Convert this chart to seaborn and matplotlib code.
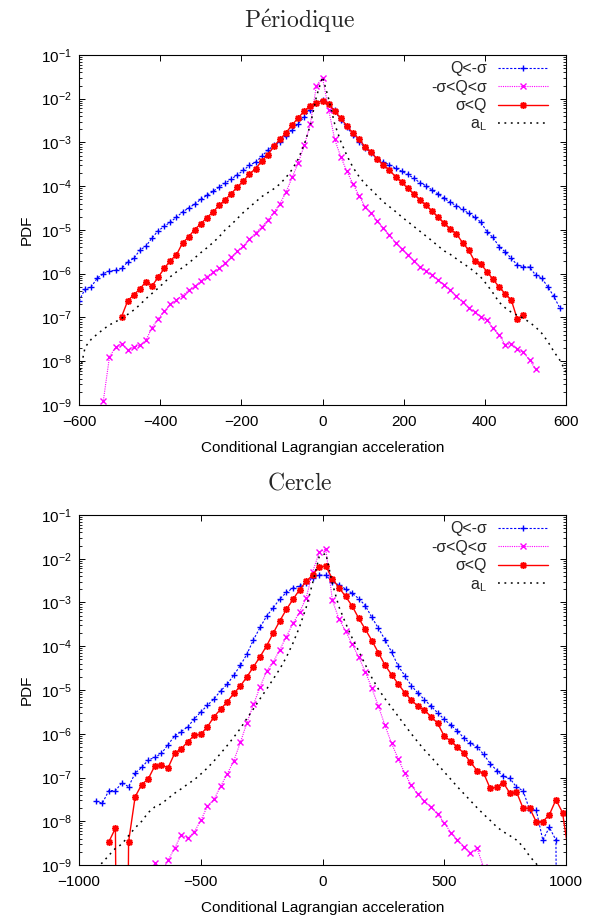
import matplotlib
matplotlib.use("Agg")
import matplotlib.pyplot as plt
import numpy as np
import seaborn as sns

# ---- data (log10 of the PDF) ------------------------------------------------
LABELS = ["Q<-σ", "-σ<Q<σ", "σ<Q", r"a$_\mathregular{L}$"]
NAN = np.nan

# "Périodique": bins every 15 units
per_x = np.arange(-600, 601, 15)
per_blue = [-6.62, -6.35, -6.30, -6.10, -6.00, -5.94, -5.92, -5.88, -5.73, -5.65,
            -5.46, -5.37, -5.18, -5.02, -4.92, -4.82, -4.71, -4.59, -4.50, -4.41,
            -4.30, -4.21, -4.12, -4.02, -3.93, -3.84, -3.74, -3.64, -3.52, -3.45,
            -3.32, -3.18, -3.07, -3.00, -2.86, -2.72, -2.57, -2.42, -2.25, -2.10,
            -2.03,
            -2.12, -2.27, -2.49, -2.65, -2.83, -2.98, -3.12, -3.25, -3.37, -3.45,
            -3.51, -3.59, -3.66, -3.73, -3.82, -3.92, -3.99, -4.09, -4.18, -4.28,
            -4.37, -4.45, -4.53, -4.62, -4.71, -4.82, -5.04, -5.17, -5.38, -5.50,
            -5.65, -5.80, -5.84, -5.85, -6.03, -6.10, -6.30, -6.52, -6.79, NAN]
per_magenta = [NAN, NAN, NAN, NAN,
               -8.90, -7.90, -7.68, -7.60, -7.74, -7.68, -7.64, -7.52, -7.23, -7.03,
               -6.86, -6.70, -6.59, -6.50, -6.38, -6.29, -6.17, -6.07, -5.97, -5.88,
               -5.76, -5.62, -5.49, -5.37, -5.21, -5.07, -4.93, -4.78, -4.60, -4.40,
               -4.14, -3.80, -3.47, -3.07, -2.58, -1.70, -1.52,
               -2.25, -2.93, -3.33, -3.66, -3.95, -4.22, -4.47, -4.62, -4.80, -4.96,
               -5.12, -5.29, -5.43, -5.57, -5.71, -5.84, -5.94, -6.03, -6.15, -6.25,
               -6.37, -6.52, -6.65, -6.78, -6.88, -6.98, -7.06, -7.25, -7.40, -7.62,
               -7.60, -7.71, -7.80, -7.97, -8.18,
               NAN, NAN, NAN, NAN, NAN]
per_red = [NAN, NAN, NAN, NAN, NAN, NAN, NAN,
           -6.98, -6.62, -6.48, -6.35, -6.18, -6.28, -6.08, -5.88, -5.70, -5.57,
           -5.30, -5.16, -4.99, -4.86, -4.72, -4.59, -4.44, -4.31, -4.17, -4.02,
           -3.88, -3.72, -3.60, -3.43, -3.28, -3.09, -2.93, -2.78, -2.60, -2.44,
           -2.28, -2.16, -2.09, -2.05,
           -2.13, -2.28, -2.45, -2.62, -2.79, -2.93, -3.10, -3.23, -3.38, -3.51,
           -3.64, -3.78, -3.91, -4.05, -4.18, -4.31, -4.44, -4.57, -4.71, -4.85,
           -4.98, -5.09, -5.29, -5.46, -5.72, -5.78, -5.95, -6.13, -6.30, -6.46,
           -6.60, -7.04, -6.95,
           NAN, NAN, NAN, NAN, NAN, NAN, NAN]
per_black = [-8.35, -7.68, -7.50, -7.38, -7.27, -7.17, -7.10, -7.02, -6.93, -6.83,
             -6.71, -6.57, -6.45, -6.33, -6.20, -6.07, -5.96, -5.86, -5.76, -5.64,
             -5.52, -5.41, -5.29, -5.16, -5.00, -4.88, -4.74, -4.60, -4.48, -4.36,
             -4.24, -4.15, -4.06, -3.95, -3.80, -3.62, -3.38, -3.05, -2.60, -1.95,
             -1.50,
             -2.00, -2.58, -2.98, -3.30, -3.57, -3.78, -3.95, -4.08, -4.22, -4.36,
             -4.47, -4.58, -4.70, -4.81, -4.92, -5.03, -5.14, -5.25, -5.37, -5.48,
             -5.56, -5.66, -5.76, -5.85, -5.96, -6.08, -6.25, -6.44, -6.65, -6.78,
             -6.88, -6.95, -7.02, -7.11, -7.22, -7.36, -7.55, -7.78, -7.98, -8.25]

# "Cercle": bins 27 wide, centred on +-13.5, +-40.5, ...  (-30 = empty bin)
cer_x = np.arange(-37, 38) * 27 + 13.5
cer_blue = [NAN, NAN,
            -7.54, -7.59, -7.30, -7.30, -7.12, -7.21, -6.90, -6.77, -6.60, -6.54,
            -6.45, -6.25, -6.05, -5.95, -5.84, -5.66, -5.50, -5.35, -5.20, -5.02,
            -4.87, -4.66, -4.44, -4.18, -3.85, -3.57, -3.31, -3.12, -2.92, -2.77,
            -2.67, -2.62, -2.55, -2.43, -2.37,
            -2.38, -2.53, -2.60, -2.69, -2.79, -2.91, -3.07, -3.34, -3.59, -3.85,
            -4.13, -4.45, -4.67, -4.90, -5.07, -5.22, -5.37, -5.52, -5.67, -5.80,
            -5.93, -6.10, -6.22, -6.30, -6.47, -6.68, -6.84, -6.97, -7.02, -7.22,
            -7.30, -7.74, -7.74, -8.43, -8.14, -8.43, -30,
            NAN]
cer_magenta = [NAN] * 11 + [
               -8.95, -9.20, -8.89, -8.62, -8.31, -8.39, -8.24, -7.98, -7.65, -7.50,
               -7.20, -6.92, -6.62, -6.20, -5.75, -5.33, -4.93, -4.57, -4.36, -4.08,
               -3.78, -3.48, -3.22, -2.90, -2.30, -1.85,
               -1.78, -2.95, -3.38, -3.65, -3.95, -4.25, -4.58, -4.96, -5.37, -5.81,
               -6.22, -6.57, -6.90, -7.18, -7.38, -7.54, -7.68, -7.84, -8.03, -8.26,
               -8.42, -8.58, -8.72, -8.62, -9.05] + [NAN] * 13
cer_red = [NAN, NAN, NAN, NAN,
           -8.47, -8.16, -30, -8.47, -7.44, -7.16, -7.03, -6.73, -6.71, -6.78,
           -6.45, -6.35, -6.18, -6.04, -6.01, -5.84, -5.61, -5.44, -5.27, -5.08,
           -4.91, -4.70, -4.47, -4.24, -3.99, -3.70, -3.42, -3.16, -2.93, -2.71,
           -2.52, -2.37, -2.18,
           -2.17, -2.46, -2.66, -2.86, -3.08, -3.36, -3.61, -3.87, -4.15, -4.43,
           -4.65, -4.86, -5.06, -5.23, -5.37, -5.46, -5.61, -5.76, -6.05, -6.17,
           -6.30, -6.45, -6.65, -6.84, -6.90, -7.25, -7.22, -7.12, -7.36, -7.33,
           -7.70, -7.70, -8.01, -8.01, -7.85, -7.51, -7.80, -8.80]
cer_black = [NAN, NAN,
             -9.05, -8.95, -8.78, -8.62, -8.52, -8.33, -8.15, -8.00, -7.80, -7.67,
             -7.60, -7.48, -7.36, -7.26, -7.15, -7.05, -6.92, -6.78, -6.62, -6.45,
             -6.27, -6.08, -5.88, -5.65, -5.43, -5.20, -4.98, -4.75, -4.52, -4.25,
             -3.93, -3.56, -3.12, -2.55, -1.95,
             -1.88, -2.57, -3.10, -3.47, -3.81, -4.11, -4.42, -4.72, -4.98, -5.20,
             -5.40, -5.60, -5.80, -6.00, -6.19, -6.37, -6.53, -6.70, -6.87, -7.04,
             -7.21, -7.37, -7.53, -7.69, -7.84, -7.98, -8.13, -8.24, -8.33, -8.43,
             -8.58, -8.80, -8.97, -9.15,
             NAN, NAN, NAN, NAN]

# ---- style -------------------------------------------------------------------
sns.set_theme(style="ticks")
plt.rcParams.update({
    "font.family": ["Liberation Sans", "DejaVu Sans"],
    "font.size": 11,
    "axes.linewidth": 0.8,
    "axes.edgecolor": "black",
    "axes.labelsize": 11,
    "axes.labelcolor": "black",
    "xtick.labelsize": 11, "ytick.labelsize": 11,
    "xtick.color": "black", "ytick.color": "black",
    "xtick.direction": "in", "ytick.direction": "in",
    "xtick.top": True, "ytick.right": True,
    "xtick.major.size": 4, "ytick.major.size": 4,
    "ytick.minor.size": 2,
    "xtick.major.width": 0.7, "ytick.major.width": 0.7,
    "ytick.minor.width": 0.6,
    "xtick.major.pad": 7, "ytick.major.pad": 5,
})

STYLES = [
    dict(color="#0000ff", marker="+", markersize=5, markeredgewidth=1.0,
         markeredgecolor="#0000ff", linestyle=(0, (2, 1.5)), linewidth=0.8),
    dict(color="#ff00ff", marker="x", markersize=4, markeredgewidth=1.0,
         markeredgecolor="#ff00ff", linestyle=(0, (1, 1)), linewidth=0.8),
    dict(color="#ff0000", marker=(8, 2, 0), markersize=5, markeredgewidth=1.1,
         markeredgecolor="#ff0000", linestyle="-", linewidth=1.0),
    dict(color="black", marker=None, linestyle=(0, (1.2, 3)), linewidth=1.1),
]


def draw_panel(ax, x, series, xlim, xticks):
    ax.set_yscale("log")
    handles = []
    for label, vals, st in zip(LABELS, series, STYLES):
        y = np.power(10.0, np.asarray(vals, dtype=float))
        sns.lineplot(x=x, y=y, ax=ax, label=label, sort=False,
                     estimator=None, **st)
        handles.append(ax.lines[-1])
    ax.set_xlim(*xlim)
    ax.set_ylim(1e-9, 1e-1)
    ax.set_xticks(xticks)
    ax.set_yticks(10.0 ** np.arange(-9, 0))
    ax.yaxis.set_minor_locator(matplotlib.ticker.LogLocator(base=10, subs=np.arange(2, 10), numticks=20))
    ax.set_xlabel("Conditional Lagrangian acceleration")
    ax.set_ylabel("PDF")
    ax.xaxis.set_label_coords(0.5, -0.103)
    ax.yaxis.set_label_coords(-0.092, 0.5)
    leg = ax.legend(handles=handles, labels=LABELS, loc="upper right",
                    bbox_to_anchor=(0.962, 0.982), frameon=False, markerfirst=False,
                    handlelength=3.1, handletextpad=0.7, labelspacing=0.22,
                    borderpad=0, borderaxespad=0, fontsize=11.5)
    for vp in leg._legend_handle_box.get_children():
        vp.align = "right"


fig = plt.figure(figsize=(6, 9.17), dpi=100)
ax1 = fig.add_axes([0.1317, 0.5584, 0.8117, 0.3817])
ax2 = fig.add_axes([0.1317, 0.0567, 0.8117, 0.3817])

draw_panel(ax1, per_x, [per_blue, per_magenta, per_red, per_black],
           (-600, 600), np.arange(-600, 601, 200))
draw_panel(ax2, cer_x, [cer_blue, cer_magenta, cer_red, cer_black],
           (-1000, 1000), np.arange(-1000, 1001, 500))

fig.text(0.5, 1 - 28 / 917, r"$\mathrm{P\acute{e}riodique}$", ha="center",
         va="baseline", fontsize=17, math_fontfamily="cm")
fig.text(0.5, 1 - 489 / 917, r"$\mathrm{Cercle}$", ha="center",
         va="baseline", fontsize=17, math_fontfamily="cm")

fig.savefig("out.png", dpi=100, facecolor="white")
